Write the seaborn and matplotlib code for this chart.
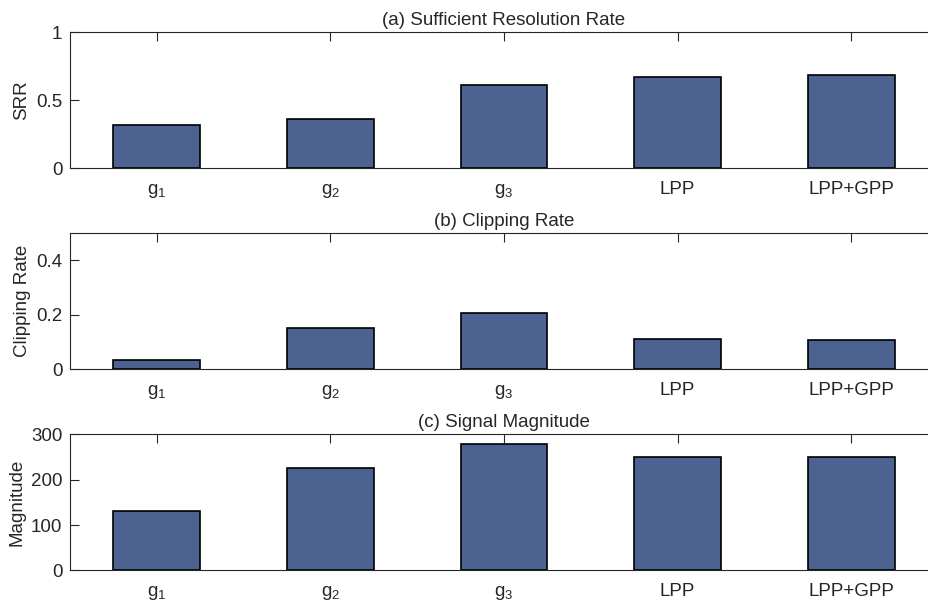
import matplotlib
matplotlib.use("Agg")
import matplotlib.pyplot as plt
from matplotlib.ticker import FuncFormatter
import seaborn as sns
import pandas as pd

# Methods compared in every panel
methods = ["g1", "g2", "g3", "LPP", "LPP+GPP"]
method_labels = [r"$\mathregular{g_1}$", r"$\mathregular{g_2}$", r"$\mathregular{g_3}$",
                 "LPP", "LPP+GPP"]

# Panel values
srr = [0.316, 0.362, 0.612, 0.674, 0.689]
clipping_rate = [0.033, 0.152, 0.206, 0.112, 0.108]
magnitude = [131, 225, 279, 250, 250]

titles = ["(a) Sufficient Resolution Rate", "(b) Clipping Rate", "(c) Signal Magnitude"]
ylabels = ["SRR", "Clipping Rate", "Magnitude"]
ylims = [(0, 1), (0, 0.5), (0, 300)]
yticks = [[0, 0.5, 1], [0, 0.2, 0.4], [0, 100, 200, 300]]

sns.set_style("ticks")
ink = "#262626"
plt.rcParams.update({
    "font.family": ["Liberation Sans", "DejaVu Sans"],
    "mathtext.fontset": "custom",
    "mathtext.rm": "Liberation Sans",
    "mathtext.it": "Liberation Sans",
    "font.size": 13.5,
    "axes.edgecolor": ink,
    "axes.labelcolor": ink,
    "xtick.color": ink,
    "ytick.color": ink,
    "text.color": ink,
    "axes.linewidth": 0.8,
})

bar_color = "#4c6291"
fig = plt.figure(figsize=(9.2805, 6.0305), dpi=100)

left, width, height = 70 / 928, 868 / 928, 136 / 603
bottoms = [(603 - 168.3) / 603, (603 - 369.3) / 603, (603 - 570.3) / 603]
series = [srr, clipping_rate, magnitude]

for i, vals in enumerate(series):
    ax = fig.add_axes([left, bottoms[i], width, height])
    df = pd.DataFrame({"method": methods, "value": vals})
    sns.barplot(data=df, x="method", y="value", color=bar_color, width=0.5,
                saturation=1, edgecolor="black", linewidth=1.2, ax=ax)
    ax.set_xlim(-0.5, 4.5)
    ax.set_ylim(*ylims[i])
    ax.set_yticks(yticks[i])
    ax.yaxis.set_major_formatter(FuncFormatter(lambda v, p: f"{v:g}"))
    ax.set_xticks(range(len(methods)))
    ax.set_xticklabels(method_labels)
    for t in ax.get_xticklabels():
        t.set_verticalalignment("baseline")
    ax.set_xlabel("")
    ax.set_ylabel(ylabels[i], labelpad=4)
    ax.set_title(titles[i], fontsize=13.5, pad=5)
    ax.tick_params(axis="x", direction="in", length=6.5, width=0.8,
                   top=True, bottom=True, pad=18.5)
    ax.tick_params(axis="y", direction="in", length=6.5, width=0.8,
                   left=True, right=False, pad=5.5)
    for name in ("left", "top", "bottom"):
        ax.spines[name].set_visible(True)
        ax.spines[name].set_color(ink)
        ax.spines[name].set_linewidth(0.8)
    ax.spines["right"].set_visible(False)

fig.savefig("out.png", dpi=100)
